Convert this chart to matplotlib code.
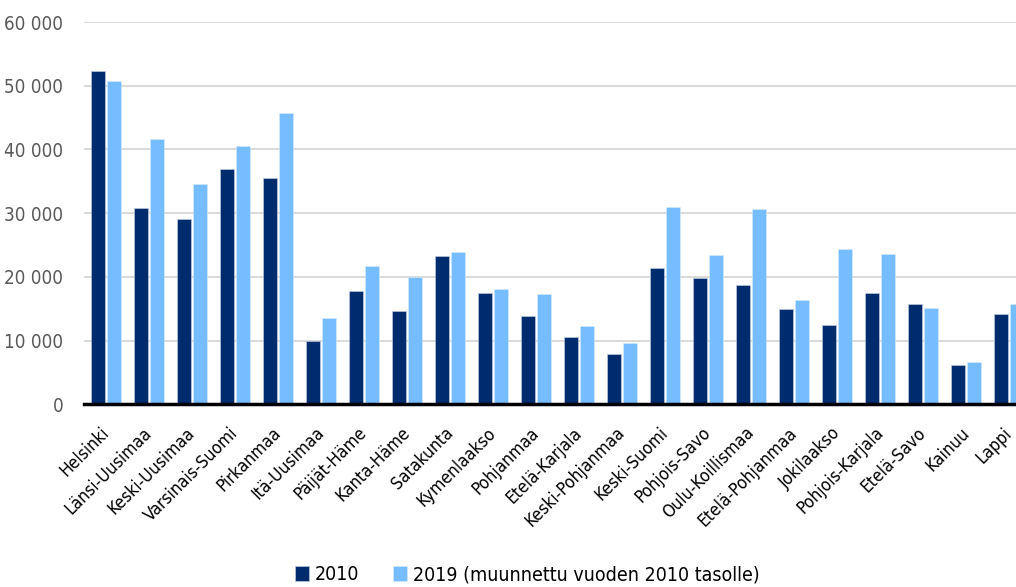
import matplotlib
matplotlib.use("Agg")
import matplotlib.pyplot as plt
from matplotlib import font_manager
from matplotlib.transforms import ScaledTranslation
import numpy as np

alueet = ["Helsinki", "Länsi-Uusimaa", "Keski-Uusimaa", "Varsinais-Suomi", "Pirkanmaa",
          "Itä-Uusimaa", "Päijät-Häme", "Kanta-Häme", "Satakunta", "Kymenlaakso",
          "Pohjanmaa", "Etelä-Karjala", "Keski-Pohjanmaa", "Keski-Suomi", "Pohjois-Savo",
          "Oulu-Koillismaa", "Etelä-Pohjanmaa", "Jokilaakso", "Pohjois-Karjala",
          "Etelä-Savo", "Kainuu", "Lappi"]
v2010 = [52300, 30780, 29100, 36940, 35530, 10000, 17760, 14670, 23340, 17440,
         13880, 10640, 7920, 21410, 19890, 18750, 15030, 12420, 17490, 15720, 6240, 14240]
v2019 = [50750, 41650, 34540, 40500, 45680, 13570, 21770, 19950, 23920, 18120,
         17330, 12310, 9600, 30980, 23450, 30620, 16390, 24350, 23610, 15140, 6670, 15760]
y_ticks = [0, 10000, 20000, 30000, 40000, 50000, 60000]

# etsitään kapea fontti jos sellainen löytyy
kapeat = [(f.name, f.stretch) for f in font_manager.fontManager.ttflist
          if str(f.stretch) in ("condensed", "semi-condensed", "extra-condensed")
          or "Narrow" in f.name or "Condensed" in f.name]
fontti = "DejaVu Sans"
venytys = "normal"
for nimi, st in kapeat:
    if nimi.startswith("DejaVu Sans") and "Mono" not in nimi:
        fontti, venytys = nimi, st
        break
else:
    if kapeat:
        fontti, venytys = kapeat[0]
plt.rcParams['font.family'] = [fontti, 'DejaVu Sans']
plt.rcParams['font.stretch'] = venytys

tumma = "#002b6d"
vaalea = "#75bdff"

fig = plt.figure(figsize=(10.16, 5.87), dpi=100)
ax = fig.add_axes([0.0827, 0.311, 0.9173, 0.6515])

x = np.arange(len(alueet))
lev = 0.326
ax.bar(x - 0.186, v2010, width=lev, color=tumma, edgecolor="#c8d3e6", linewidth=0.4, label="2010", zorder=3)
ax.bar(x + 0.186, v2019, width=lev, color=vaalea, edgecolor="#d6ebff", linewidth=0.4,
       label="2019 (muunnettu vuoden 2010 tasolle)", zorder=3)

ax.set_xlim(-0.5, 21.17)
ax.set_ylim(0, 60000)
ax.set_yticks(y_ticks)
ax.set_yticklabels([f"{v:,}".replace(",", " ") for v in y_ticks], color="#595959", fontsize=13.5)
ax.yaxis.grid(True, color="#d9d9d9", linewidth=1.4, zorder=0)
ax.tick_params(axis="y", length=0, pad=15)
ax.tick_params(axis="x", length=0, pad=14)
ax.set_xticks(x)
ax.set_xticklabels(alueet, rotation=45, ha="right", rotation_mode="anchor", fontsize=12.5, color="black")
siirto = ScaledTranslation(-4 / 72, 0, fig.dpi_scale_trans)
for t in ax.get_xticklabels():
    t.set_transform(t.get_transform() + siirto)
for s in ["top", "right", "left"]:
    ax.spines[s].set_visible(False)
ax.spines["bottom"].set_linewidth(2.5)
ax.spines["bottom"].set_color("black")
ax.spines["bottom"].set_zorder(4)

fig.legend(loc="lower center", bbox_to_anchor=(0.519, -0.025), ncol=2, frameon=False,
           fontsize=14, handlelength=0.75, handleheight=0.8, handletextpad=0.3, columnspacing=1.7)

fig.savefig("out.png", dpi=100)
